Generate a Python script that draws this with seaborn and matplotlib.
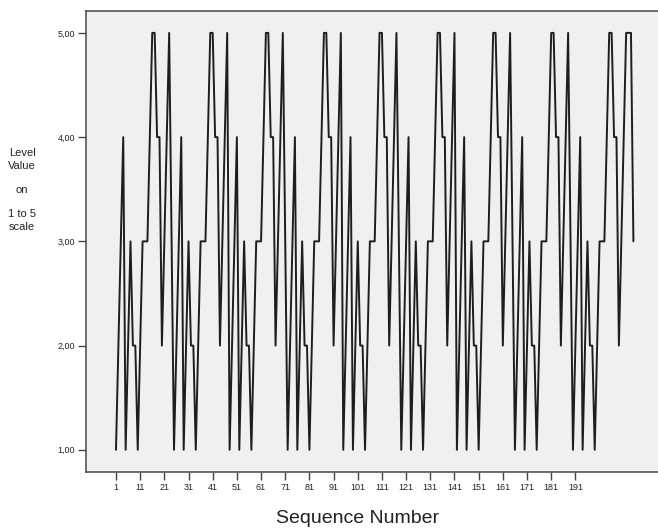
import matplotlib
matplotlib.use("Agg")
import matplotlib.pyplot as plt
import seaborn as sns
import pandas as pd
from matplotlib.ticker import FuncFormatter

# Level values (1-5 scale), one list per cycle
cycle_1 = [1, 2, 3, 4, 1, 2, 3, 2, 2, 1, 2, 3, 3, 3, 4, 5, 5, 4, 4, 2, 3, 4, 5, 3]
cycle_2 = [1, 2, 3, 4, 1, 2, 3, 2, 2, 1, 2, 3, 3, 3, 4, 5, 5, 4, 4, 2, 3, 4, 5]
cycle_3 = [1, 2, 3, 4, 1, 2, 3, 2, 2, 1, 2, 3, 3, 3, 4, 5, 5, 4, 4, 2, 3, 4, 5, 3]
cycle_4 = [1, 2, 3, 4, 1, 2, 3, 2, 2, 1, 2, 3, 3, 3, 4, 5, 5, 4, 4, 2, 3, 4, 5]
cycle_5 = [1, 2, 3, 4, 1, 2, 3, 2, 2, 1, 2, 3, 3, 3, 4, 5, 5, 4, 4, 2, 3, 4, 5, 3]
cycle_6 = [1, 2, 3, 4, 1, 2, 3, 2, 2, 1, 2, 3, 3, 3, 4, 5, 5, 4, 4, 2, 3, 4, 5]
cycle_7 = [1, 2, 3, 4, 1, 2, 3, 2, 2, 1, 2, 3, 3, 3, 4, 5, 5, 4, 4, 2, 3, 4, 5, 3]
cycle_8 = [1, 2, 3, 4, 1, 2, 3, 2, 2, 1, 2, 3, 3, 3, 4, 5, 5, 4, 4, 2, 3, 4, 5, 3]
cycle_9 = [1, 2, 3, 4, 1, 2, 3, 2, 2, 1, 2, 3, 3, 3, 4, 5, 5, 4, 4, 2, 3, 4, 5, 5, 5, 3]

values = (cycle_1 + cycle_2 + cycle_3 + cycle_4 + cycle_5 +
          cycle_6 + cycle_7 + cycle_8 + cycle_9)
sequence = list(range(1, len(values) + 1))

x_ticks = [1, 11, 21, 31, 41, 51, 61, 71, 81, 91, 101, 111, 121, 131,
           141, 151, 161, 171, 181, 191]
y_ticks = [1, 2, 3, 4, 5]

df = pd.DataFrame({"Sequence Number": sequence, "Level": values})

sns.set_style("ticks")
plt.rcParams["font.family"] = ["Liberation Sans", "DejaVu Sans"]

W, H = 658, 531
fig = plt.figure(figsize=(W / 100, H / 100), dpi=100)
fig.patch.set_facecolor("white")
left, right, top, bottom = 86, 660, 11, 471.7
ax = fig.add_axes([left / W, 1 - bottom / H, (right - left) / W, (bottom - top) / H])
ax.set_facecolor("#f0f0f0")

sns.lineplot(data=df, x="Sequence Number", y="Level", ax=ax,
             color="#1e1e1e", linewidth=1.4, estimator=None)

ax.set_xlim(-11.4, 226)
ax.set_ylim(0.79, 5.21)
ax.set_xticks(x_ticks)
ax.set_xticklabels([str(t) for t in x_ticks])
ax.set_yticks(y_ticks)
ax.yaxis.set_major_formatter(FuncFormatter(lambda v, p: f"{v:.2f}".replace(".", ",")))

for s in ["left", "bottom", "top", "right"]:
    ax.spines[s].set_color("#555555")
    ax.spines[s].set_linewidth(1.2)

ax.tick_params(axis="both", which="major", length=6, width=1.0, color="#444444",
               labelsize=6.5, labelcolor="#222222", pad=2)

ax.set_xlabel("Sequence Number", fontsize=14, color="#222222")
ax.xaxis.set_label_coords((358 - left) / (right - left), (bottom - 510) / (bottom - top))
ax.set_ylabel("Level\nValue\n\non\n\n1 to 5\nscale", rotation=0, fontsize=8,
              linespacing=1.28, color="#222222", ha="center", va="center")
ax.yaxis.set_label_coords((22 - left) / (right - left), (bottom - 190) / (bottom - top))

fig.savefig("out.png", dpi=100)
